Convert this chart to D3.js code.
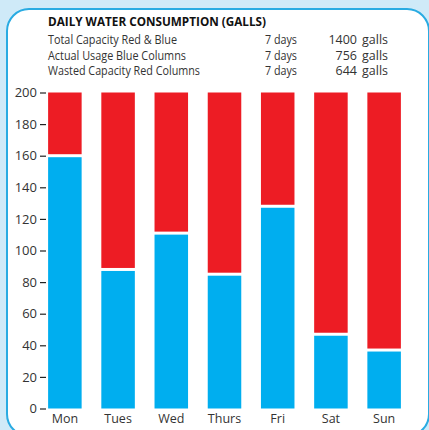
<!DOCTYPE html>
<html>
<head>
<meta charset="utf-8">
<script src="https://cdn.jsdelivr.net/npm/d3@7"></script>
<style>
  body { margin: 0; background: #cfeaf8; }
  svg { display: block; font-family: "Open Sans", "Noto Sans", sans-serif; }
</style>
</head>
<body>
<svg id="chart" width="429" height="430"></svg>
<script>
// chart data
var days = ["Mon", "Tues", "Wed", "Thurs", "Fri", "Sat", "Sun"];
var usedValues = [160, 88, 111, 85, 128, 47, 37];
var capacityValues = [200, 200, 200, 200, 200, 200, 200];
var yTicks = [0, 20, 40, 60, 80, 100, 120, 140, 160, 180, 200];

var titleText = "DAILY WATER CONSUMPTION (GALLS)";
var summaryLabels = ["Total Capacity Red & Blue", "Actual Usage Blue Columns", "Wasted Capacity Red Columns"];
var summaryDays = ["7 days", "7 days", "7 days"];
var summaryGalls = [1400, 756, 644];

function draw_chart(){
    var svg = d3.select("#chart");
    svg.selectAll("*").remove();

    // panel
    svg.append("rect")
        .attr("x", 7).attr("y", 9)
        .attr("width", 422).attr("height", 427)
        .attr("rx", 22)
        .attr("fill", "#ffffff")
        .attr("stroke", "#29abe2")
        .attr("stroke-width", 2);

    // header
    svg.append("text")
        .attr("x", 48).attr("y", 26)
        .attr("font-size", 13).attr("font-weight", "bold")
        .attr("fill", "#111")
        .attr("textLength", 218).attr("lengthAdjust", "spacingAndGlyphs")
        .text(titleText);

    var labelWidths = [129, 138, 152];
    var rows = svg.append("g").attr("font-size", 12.5).attr("fill", "#333");
    summaryLabels.forEach(function(lab, i){
        var yy = 44 + i * 15.7;
        rows.append("text").attr("x", 48).attr("y", yy)
            .attr("textLength", labelWidths[i]).attr("lengthAdjust", "spacingAndGlyphs")
            .text(lab);
        rows.append("text").attr("x", 265).attr("y", yy)
            .attr("textLength", 32).attr("lengthAdjust", "spacingAndGlyphs")
            .text(summaryDays[i]);
        rows.append("text").attr("x", 357).attr("y", yy).attr("text-anchor", "end").text(summaryGalls[i]);
        rows.append("text").attr("x", 362).attr("y", yy)
            .attr("textLength", 26).attr("lengthAdjust", "spacingAndGlyphs")
            .text("galls");
    });

    var x = d3.scaleBand()
        .domain(days)
        .range([38, 411])
        .paddingInner(0.37)
        .paddingOuter(0.19);

    var y = d3.scaleLinear()
        .domain([0, 200])
        .range([408.5, 92.5]);

    var bars = svg.append("g");
    bars.selectAll(".waste")
        .data(days)
        .enter().append("rect")
        .attr("class", "waste")
        .attr("x", function(d) { return x(d); })
        .attr("width", x.bandwidth())
        .attr("y", function(d, i) { return y(capacityValues[i]); })
        .attr("height", function(d, i) { return y(usedValues[i]) - y(capacityValues[i]) - 1.5; })
        .attr("fill", "#ed1c24");

    bars.selectAll(".used")
        .data(days)
        .enter().append("rect")
        .attr("class", "used")
        .attr("x", function(d) { return x(d); })
        .attr("width", x.bandwidth())
        .attr("y", function(d, i) { return y(usedValues[i]) + 1.5; })
        .attr("height", function(d, i) { return y(0) - y(usedValues[i]) - 1.5; })
        .attr("fill", "#00aeef");

    // y axis
    var yAxis = svg.append("g")
        .attr("transform", "translate(46,0)")
        .call(d3.axisLeft(y).tickValues(yTicks).tickSize(6).tickPadding(3));
    yAxis.select(".domain").remove();
    yAxis.selectAll("line").attr("stroke", "#222").attr("stroke-width", 1.2);
    yAxis.selectAll("text")
        .attr("font-family", "Open Sans, Noto Sans, sans-serif")
        .attr("font-size", 13).attr("fill", "#333");

    // x axis
    var xAxis = svg.append("g")
        .attr("transform", "translate(0,408.5)")
        .call(d3.axisBottom(x).tickSize(0).tickPadding(6));
    xAxis.select(".domain").remove();
    xAxis.selectAll("text")
        .attr("font-family", "Open Sans, Noto Sans, sans-serif")
        .attr("font-size", 12.5).attr("fill", "#333");
}

draw_chart();
</script>
</body>
</html>
